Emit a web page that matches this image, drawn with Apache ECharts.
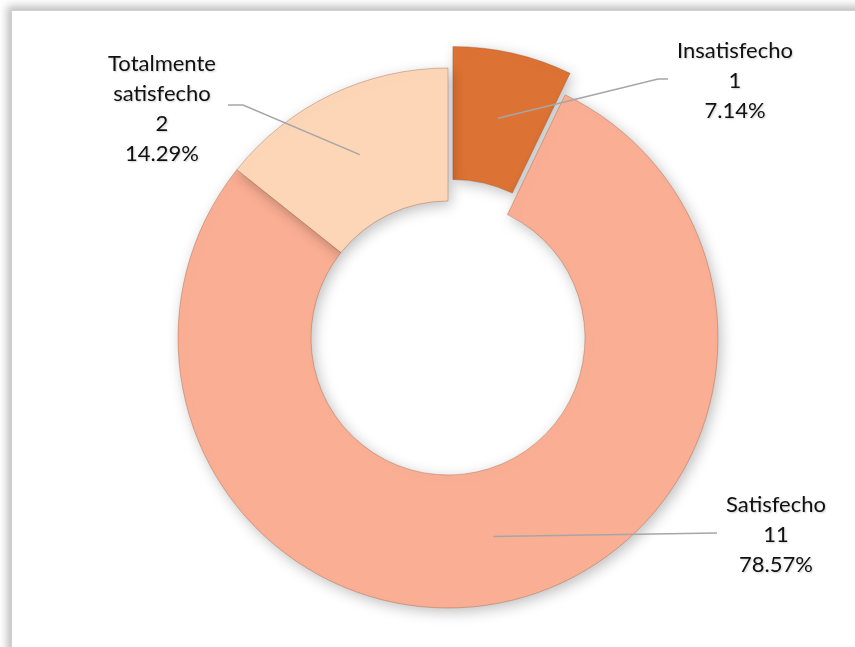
<!DOCTYPE html>
<html>
<head>
<meta charset="utf-8">
<script src="https://cdn.jsdelivr.net/npm/echarts@6/dist/echarts.min.js"></script>
<style>
  html, body { margin: 0; padding: 0; background: #fff; }
  #frame {
    position: absolute; left: 11px; top: 10px; width: 860px; height: 650px;
    border-left: 1px solid #d0d0d0; border-top: 1px solid #d0d0d0;
    box-shadow: -4px -4px 8px rgba(0, 0, 0, 0.25);
    background: #fff;
  }
  #PieChart { position: absolute; left: 0; top: 0; width: 855px; height: 647px; }
</style>
</head>
<body>
<div id="frame"></div>
<div id="PieChart"></div>
<script>
// data
const categories = ["Insatisfecho", "Satisfecho", "Totalmente satisfecho"];
const labelNames = ["Insatisfecho", "Satisfecho", "Totalmente\nsatisfecho"];
const counts = [1, 11, 2];
const colors = ["#DC7233", "#FAAE93", "#FCD6B7"];
// where each label box sits, and where its leader line ends
const labelPos = [[735, 81], [776, 535], [162, 109]];
const lineEnds = [[[658, 79], [668, 79]], [[717, 533], [717, 533]], [[243, 105], [228, 105]]];

const center = [448, 338];
const radius = [137, 270];
const explode = 22;

const total = counts.reduce((a, b) => a + b, 0);
function lineStart(i) {
  let before = 0;
  for (let k = 0; k < i; k++) before += counts[k];
  const mid = ((before + counts[i] / 2) / total) * Math.PI * 2;
  const r = (radius[0] + radius[1]) / 2 + (i === 0 ? explode : 0);
  return [center[0] + r * Math.sin(mid), center[1] - r * Math.cos(mid)];
}

const graphics = [];
categories.forEach((name, i) => {
  const pct = ((counts[i] / total) * 100).toFixed(2);
  graphics.push({
    type: "polyline",
    z: 100,
    shape: { points: [lineStart(i), lineEnds[i][0], lineEnds[i][1]] },
    style: { stroke: "#A6A6A6", lineWidth: 1.5, fill: null },
  });
  graphics.push({
    type: "text",
    z: 100,
    x: labelPos[i][0],
    y: labelPos[i][1],
    style: {
      text: labelNames[i] + "\n" + counts[i] + "\n" + pct + "%",
      fontFamily: "Lato",
      fontSize: 22,
      lineHeight: 30,
      fill: "#111",
      align: "center",
      verticalAlign: "middle",
      textShadowColor: "rgba(0,0,0,0.2)",
      textShadowBlur: 2,
      textShadowOffsetX: 1,
      textShadowOffsetY: 1,
    },
  });
});

const chart = echarts.init(document.getElementById("PieChart"));
chart.setOption({
  animation: false,
  graphic: graphics,
  series: [
    {
      type: "pie",
      center: center,
      radius: radius,
      startAngle: 90,
      clockwise: true,
      selectedMode: "single",
      selectedOffset: explode,
      emphasis: { disabled: true },
      label: { show: false },
      labelLine: { show: false },
      itemStyle: {
        shadowBlur: 14,
        shadowColor: "rgba(0,0,0,0.25)",
        shadowOffsetX: 3,
        shadowOffsetY: 4,
        borderColor: "rgba(150,80,50,0.35)",
        borderWidth: 1,
      },
      data: categories.map((name, i) => ({
        name: name,
        value: counts[i],
        selected: i === 0,
        itemStyle: { color: colors[i] },
      })),
    },
  ],
});
</script>
</body>
</html>
